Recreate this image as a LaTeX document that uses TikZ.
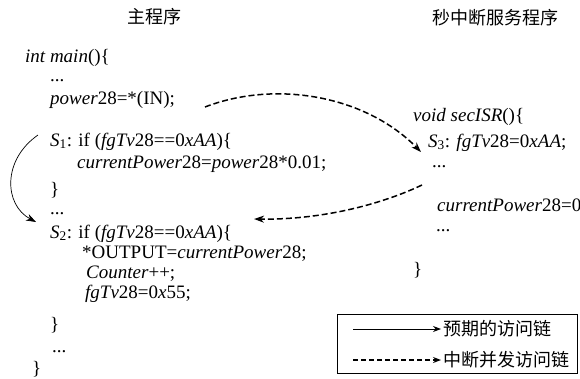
\documentclass[tikz,border=0pt]{standalone}
\usepackage{fontspec}
\setmainfont{Liberation Serif}
\newfontfamily\cjk{Noto Sans CJK SC}
\usetikzlibrary{arrows.meta}
\begin{document}
\begin{tikzpicture}[x=1pt,y=-1pt,
  code/.style={anchor=base west, inner sep=0pt, font=\fontsize{19}{22}\selectfont},
  ttl/.style={inner sep=0pt, font=\cjk\fontsize{18}{20}\selectfont},
  legtext/.style={anchor=west, inner sep=0pt, font=\cjk\fontsize{18}{20}\selectfont},
  flow/.style={-{Stealth[length=10pt,width=7pt]}, line width=0.7pt},
  conc/.style={-{Stealth[length=10pt,width=7pt]}, line width=1.5pt, dash pattern=on 6pt off 3pt},
  legsolid/.style={-{Stealth[length=8pt,width=6pt]}, line width=0.8pt},
  legdash/.style={-{Stealth[length=8pt,width=6pt]}, line width=1.4pt, dash pattern=on 5pt off 3pt},
]
\useasboundingbox (0,0) rectangle (580,378);
\fill[white] (0,0) rectangle (580,378);

% titles
\node[ttl] (t1) at (154,17) {主程序};
\node[ttl] (t2) at (495,18) {秒中断服务程序};

% main program
\node[code] (m0)  at (25,62)  {\textit{int main}()\{};
\node[code] (m1)  at (50,81)  {...};
\node[code] (m2)  at (50,104) {\textit{power}28=*(IN);};
\node[code] (s1)  at (50,146) {\textit{S}\textsubscript{1}: if (\textit{fgTv}28==0\textit{xAA})\{};
\node[code] (m3)  at (77,168) {\textit{currentPower}28=\textit{power}28*0.01;};
\node[code] (m4)  at (50,195) {\}};
\node[code] (m5)  at (50,214) {...};
\node[code] (s2)  at (50,238) {\textit{S}\textsubscript{2}: if (\textit{fgTv}28==0\textit{xAA})\{};
\node[code] (m6)  at (82,258) {*OUTPUT=\textit{currentPower}28;};
\node[code] (m7)  at (86,278) {\textit{Counter}++;};
\node[code] (m8)  at (85,298) {\textit{fgTv}28=0\textit{x}55;};
\node[code] (m9)  at (50,330) {\}};
\node[code] (m10) at (52,352) {...};
\node[code] (m11) at (32,374) {\}};

% ISR
\node[code] (r0) at (413,121) {\textit{void secISR}()\{};
\node[code] (s3) at (428,147) {\textit{S}\textsubscript{3}: \textit{fgTv}28=0\textit{xAA};};
\node[code] (r1) at (432,167) {...};
\node[code] (r2) at (437,211) {\textit{currentPower}28=0};
\node[code] (r3) at (436,231) {...};
\node[code] (r4) at (413,275) {\}};

% connector end points
\coordinate (a1) at (38,135);
\coordinate (a2) at (36,222);
\coordinate (b1) at (205,107);
\coordinate (b2) at (421,152);
\coordinate (c1) at (422,185);
\coordinate (c2) at (254,219);

\draw[flow] (a1) .. controls (2,160) and (4,205) .. (a2);
\draw[conc] (b1) .. controls (275,80) and (365,95) .. (b2);
\draw[conc] (c1) .. controls (380,205) and (320,220) .. (c2);

% legend
\draw[line width=0.8pt] (337,314) rectangle (577,373);
\coordinate (l1a) at (353,329);
\coordinate (l1b) at (441,329);
\coordinate (l2a) at (353,360);
\coordinate (l2b) at (441,360);
\draw[legsolid] (l1a) -- (l1b);
\draw[legdash] (l2a) -- (l2b);
\node[legtext] (lt1) at (443,329) {预期的访问链};
\node[legtext] (lt2) at (443,360) {中断并发访问链};
\end{tikzpicture}
\end{document}
